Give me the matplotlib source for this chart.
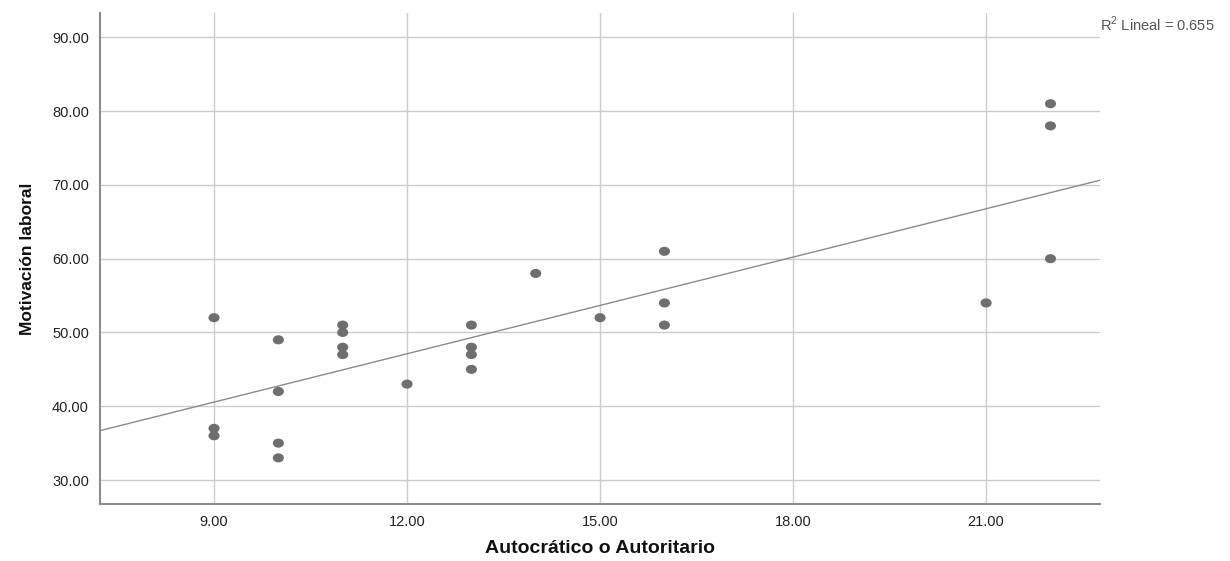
import numpy as np
import matplotlib
matplotlib.use("Agg")
import matplotlib.pyplot as plt
from matplotlib.path import Path
from matplotlib.transforms import Affine2D

# Data
autocratico = [9, 9, 9, 10, 10, 10, 10, 11, 11, 11, 11, 12, 13, 13, 13, 13,
               14, 15, 16, 16, 16, 21, 22, 22, 22]
motivacion = [52, 37, 36, 49, 42, 35, 33, 51, 50, 48, 47, 43, 51, 48, 47, 45,
              58, 52, 61, 54, 51, 54, 81, 78, 60]
x_ticks = [9, 12, 15, 18, 21]
y_ticks = [30, 40, 50, 60, 70, 80, 90]
r2_text = "R$^2$ Lineal = 0.655"

plt.rcParams['font.family'] = ['Liberation Sans', 'DejaVu Sans']
plt.rcParams['mathtext.fontset'] = 'custom'
plt.rcParams['mathtext.rm'] = 'Liberation Sans'

x = np.array(autocratico, dtype=float)
y = np.array(motivacion, dtype=float)

fig = plt.figure(figsize=(12.30, 5.61), dpi=100)
ax = fig.add_axes([100 / 1230, 1 - 504 / 561, 1000 / 1230, 491 / 561])

xmin, xmax = 7.228, 22.77
ymin, ymax = 26.75, 93.3
ax.set_xlim(xmin, xmax)
ax.set_ylim(ymin, ymax)

grid_c = "#cccccc"
for t in x_ticks:
    ax.axvline(t, color=grid_c, lw=1.0, zorder=1)
for t in y_ticks:
    ax.axhline(t, color=grid_c, lw=1.0, zorder=1)

# regression line
b, a = np.polyfit(x, y, 1)
xx = np.array([xmin, xmax])
ax.plot(xx, a + b * xx, color="#8a8a8a", lw=1.0, zorder=2)

# elliptical marker
ell = Path.unit_circle().transformed(Affine2D().scale(1.22, 1.0))
ax.scatter(x, y, marker=ell, s=64, color="#6e6e6e", edgecolors="none", zorder=3)

ax.set_xticks(x_ticks)
ax.set_xticklabels([f"{t:.2f}" for t in x_ticks])
ax.set_yticks(y_ticks)
ax.set_yticklabels([f"{t:.2f}" for t in y_ticks])
ax.tick_params(axis="both", length=0, labelsize=10.5, colors="#222222")
ax.tick_params(axis="y", pad=8)
ax.tick_params(axis="x", pad=8)

for s in ["top", "right"]:
    ax.spines[s].set_visible(False)
for s in ["left", "bottom"]:
    ax.spines[s].set_color("#8c8c8c")
    ax.spines[s].set_linewidth(1.5)

ax.set_xlabel("Autocrático o Autoritario", fontsize=14, fontweight="bold",
              labelpad=8, color="#111111")
ax.set_ylabel("Motivación laboral", fontsize=12.5, fontweight="bold",
              labelpad=12, color="#111111",
              family=['Liberation Sans Narrow', 'Liberation Sans'])

fig.text(1100 / 1230, 1 - 24 / 561, r2_text, fontsize=10.5, color="#555555",
         ha="left", va="center")

fig.savefig("out.png", dpi=100, facecolor="white")
